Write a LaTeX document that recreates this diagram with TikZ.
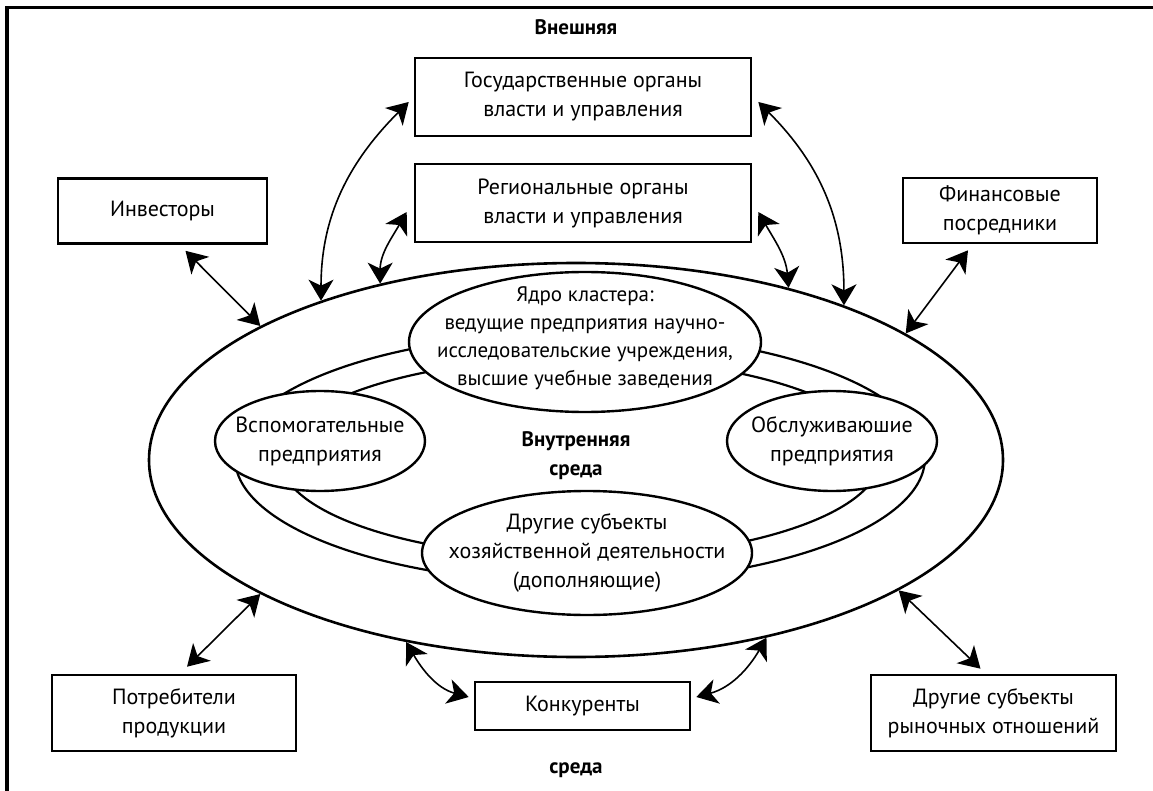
\documentclass[tikz,border=0pt]{standalone}
\usepackage{fontspec}
\setmainfont{PT Sans}
\usetikzlibrary{shapes.geometric,arrows.meta,calc}
\begin{document}
\begin{tikzpicture}[x=1pt,y=1pt,
  every node/.style={font=\fontsize{22}{29}\selectfont, align=center, inner sep=0pt},
  box/.style={draw, line width=2.6pt, fill=white, rectangle},
  ell/.style={draw, ellipse, line width=2.4pt, fill=white},
  hd/.style={font=\fontsize{21}{29}\selectfont\bfseries},
  coretxt/.style={font=\fontsize{21}{28}\selectfont},
  ring/.style={line width=2.2pt},
  dbl/.style={line width=1.6pt, {Stealth[length=21pt,width=25pt,inset=6pt]}-{Stealth[length=21pt,width=25pt,inset=6pt]}}
]
\useasboundingbox (0,0) rectangle (1153,-791);
% frame
\draw[line width=3.2pt] (7,-791) -- (7,-7.5) -- (1153,-7.5);

\node[hd] (ext1) at (576,-27) {Внешняя};
\node[hd] (ext2) at (576,-770) {среда};

% outer ellipse
\node[draw, ellipse, line width=2.6pt, minimum width=854pt, minimum height=394pt] (outer) at (576,-460) {};
% ring
\draw[ring] (580,-458) ellipse [x radius=345pt, y radius=125pt];
\draw[ring] (580,-458) ellipse [x radius=300pt, y radius=100pt];

% inner ellipses
\node[ell, minimum width=352pt, minimum height=140pt] (core) at (585,-342) {};
\node[coretxt] at ([yshift=4pt]core.center) {Ядро кластера:\\ведущие предприятия научно-\\исследовательские учреждения,\\высшие учебные заведения};
\node[ell, minimum width=210pt, minimum height=100pt] (aux) at (320,-441) {};
\node at (aux) {Вспомогательные\\предприятия};
\node[ell, minimum width=210pt, minimum height=100pt] (serv) at (832,-441) {};
\node at (serv) {Обслуживаюшие\\предприятия};
\node[ell, minimum width=330pt, minimum height=124pt] (oths) at (587,-553) {};
\node at (oths) {Другие субъекты\\хозяйственной деятельности\\(дополняющие)};
\node[hd] (inner) at (576,-455.5) {Внутренняя\\среда};

% boxes
\node[box, minimum width=336pt, minimum height=78pt] (gos) at (583,-97) {Государственные органы\\власти и управления};
\node[box, minimum width=336pt, minimum height=78pt] (reg) at (583,-203) {Региональные органы\\власти и управления};
\node[box, minimum width=209pt, minimum height=65pt] (inv) at (162.5,-211) {Инвесторы};
\node[box, minimum width=194pt, minimum height=65pt] (fin) at (1000,-210.5) {Финансовые\\посредники};
\node[box, minimum width=244pt, minimum height=76pt] (cons) at (174,-713) {Потребители\\продукции};
\node[box, minimum width=245pt, minimum height=76pt] (oth) at (993.5,-713) {Другие субъекты\\рыночных отношений};
\node[box, minimum width=215pt, minimum height=48pt] (komp) at (582.5,-706) {Конкуренты};

% arrows
\draw[dbl] ([xshift=23pt,yshift=-6pt]inv.south) -- (outer.157.6);
\draw[dbl] ([xshift=-32pt,yshift=-6pt]fin.south) -- (outer.21.6);
\draw[dbl] ([xshift=13pt,yshift=7pt]cons.north) -- (outer.-157.2);
\draw[dbl] ([xshift=-13pt,yshift=5pt]oth.north) -- (outer.-22.1);
\draw[dbl] ([xshift=-5pt,yshift=-5pt]gos.west) to[out=-135,in=90] (outer.148.3);
\draw[dbl] ([xshift=-7pt,yshift=-9pt]reg.west) to[out=-120,in=90] (outer.138.6);
\draw[dbl] ([xshift=6pt,yshift=-5pt]gos.east) to[out=-45,in=90] (outer.30.2);
\draw[dbl] ([xshift=6pt,yshift=-9pt]reg.east) to[out=-60,in=95] (outer.39.9);
\draw[dbl] ([xshift=-5pt,yshift=9pt]komp.west) to[out=165,in=-60] (outer.-133.6);
\draw[dbl] ([xshift=5pt,yshift=9pt]komp.east) to[out=15,in=-120] (outer.-43.9);
\end{tikzpicture}
\end{document}
